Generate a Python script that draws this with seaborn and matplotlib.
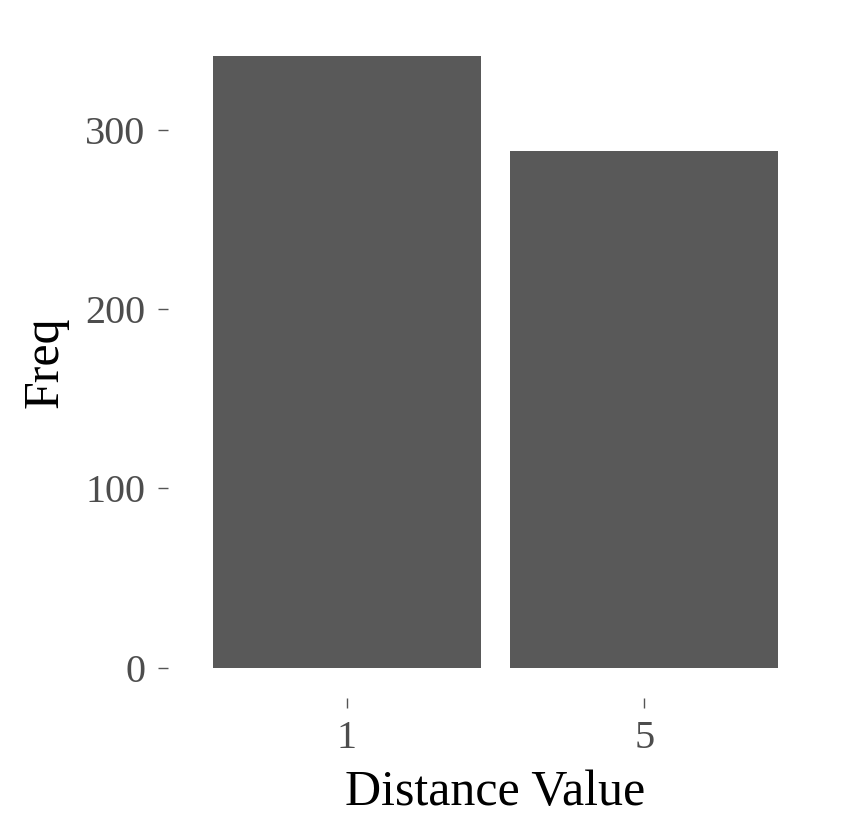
import matplotlib
matplotlib.use("Agg")
import matplotlib.pyplot as plt
import seaborn as sns
import pandas as pd

categories = ["1", "5"]
freq = [341, 288]
yticks = [0, 100, 200, 300]

sns.set_theme(style="white")
plt.rcParams['font.family'] = ['Liberation Serif', 'DejaVu Serif']

df = pd.DataFrame({"Distance Value": categories, "Freq": freq})

fig = plt.figure(figsize=(8.48, 8.31), dpi=100)
ax = fig.add_axes([0.198, 0.16, 0.7725, 0.8087])
sns.barplot(data=df, x="Distance Value", y="Freq", color="#595959", saturation=1,
            width=0.9, ax=ax)
for p in ax.patches:
    p.set_edgecolor("none")
ax.set_xlim(-0.6, 1.6)
ax.set_ylim(-17, 358)
ax.set_yticks(yticks)
ax.set_yticklabels([str(v) for v in yticks])
for s in ax.spines.values():
    s.set_visible(False)
ax.tick_params(axis="both", which="both", length=7, width=1, color="#555555",
               labelcolor="#4D4D4D", labelsize=29, direction="out",
               left=True, bottom=True)
ax.tick_params(axis="y", pad=9)
ax.tick_params(axis="x", pad=9)
ax.set_xlabel("Distance Value", fontsize=36, color="black", labelpad=9)
ax.set_ylabel("Freq", fontsize=36, color="black", labelpad=12)
fig.savefig("out.png", dpi=100, facecolor="white")
